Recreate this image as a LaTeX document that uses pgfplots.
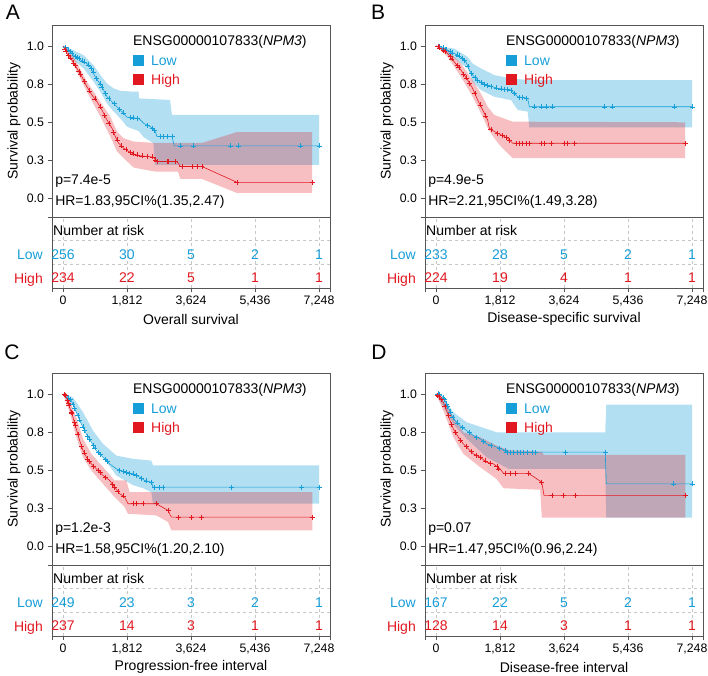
\documentclass[border=0pt]{standalone}
\usepackage{pgfplots}
\pgfplotsset{compat=1.18}
\usepackage{fontspec}
\setmainfont{Liberation Sans}
\definecolor{lowc}{RGB}{22,158,216}
\definecolor{highc}{RGB}{226,24,32}
\definecolor{axc}{RGB}{85,85,85}
\newcommand\fmain{\fontsize{14bp}{16bp}\selectfont}
\newcommand\ftick{\fontsize{12.3bp}{14bp}\selectfont}
\pgfplotsset{
 kmaxis/.style={scale only axis, width=278bp, height=192bp, anchor=south west,
  xmin=-311, xmax=7559, ymin=-0.125, ymax=1.138, xtick=\empty,
  ytick={0,0.25,0.5,0.75,1}, yticklabels={0.0,0.3,0.5,0.8,1.0},
  extra y ticks={-0.125}, extra y tick labels={},
  ytick pos=left, tick align=outside, major tick length=4.5bp,
  axis line style={axc, line width=0.6bp}, every tick/.style={axc, line width=0.6bp},
  tick label style={font=\ftick},
  ylabel={Survival probability},
  ylabel style={font=\fmain, at={(axis description cs:-0.137,0.5)}, anchor=center}},
 riskaxis/.style={scale only axis, width=278bp, height=71bp, anchor=south west,
  xmin=-311, xmax=7559, ymin=0, ymax=3, clip=false,
  xtick={0,1812,3624,5436,7248}, xticklabels={0,{1,812},{3,624},{5,436},{7,248}},
  extra x ticks={-311,7559}, extra x tick labels={}, extra x tick style={grid=none},
  xtick pos=bottom, ytick={1,2}, yticklabels={}, ymajorgrids, xmajorgrids,
  major grid style={dashed, black!22, line width=0.5bp},
  ytick style={draw=none}, tick align=outside, major tick length=4.5bp,
  axis line style={axc, line width=0.6bp}, every tick/.style={axc, line width=0.6bp},
  tick label style={font=\ftick},
  xlabel style={font=\fmain, at={(axis description cs:0.5,-0.437)}, anchor=center}},
 lowline/.style={draw=lowc, line width=0.6bp, mark=none},
 highline/.style={draw=highc, line width=0.6bp, mark=none},
 lowcens/.style={draw=lowc, only marks, mark=+, mark size=2.5bp, mark options={line width=0.5bp}},
 highcens/.style={draw=highc, only marks, mark=+, mark size=2.5bp, mark options={line width=0.5bp}},
 lowband/.style={fill=lowc, fill opacity=0.33, draw=none},
 highband/.style={fill=highc, fill opacity=0.28, draw=none},
}
\newcommand\kmdeco[2]{%
 \node[anchor=west,inner sep=0,font=\fmain] at (axis description cs:0.011,0.185) {#1};
 \node[anchor=west,inner sep=0,font=\fmain] at (axis description cs:0.011,0.080) {#2};
 \node[anchor=west,inner sep=0,font=\fmain] at (axis description cs:0.291,0.911) {ENSG00000107833(\textit{NPM3})};
 \node[fill=lowc,minimum size=11bp,inner sep=0] at (axis description cs:0.311,0.8125) {};
 \node[fill=highc,minimum size=11bp,inner sep=0] at (axis description cs:0.311,0.714) {};
 \node[anchor=west,inner sep=0,font=\fmain,text=lowc] at (axis description cs:0.356,0.8125) {Low};
 \node[anchor=west,inner sep=0,font=\fmain,text=highc,text depth=0bp] at (axis description cs:0.356,0.714) {High};
}
\newcommand\riskrow[7]{%
 \node[text=#1,font=\fmain,inner sep=0] at (axis cs:0,#2) {#3};
 \node[text=#1,font=\fmain,inner sep=0] at (axis cs:1812,#2) {#4};
 \node[text=#1,font=\fmain,inner sep=0] at (axis cs:3624,#2) {#5};
 \node[text=#1,font=\fmain,inner sep=0] at (axis cs:5436,#2) {#6};
 \node[text=#1,font=\fmain,inner sep=0] at (axis cs:7248,#2) {#7};
}
\newcommand\riskcommon{%
 \node[anchor=west,inner sep=0,font=\fmain,xshift=1bp] at (axis cs:-311,2.45) {Number at risk};
 \node[anchor=east,inner sep=0,font=\fmain,text=lowc,xshift=-9bp] at (axis cs:-311,1.4) {Low};
 \node[anchor=east,inner sep=0,font=\fmain,text=highc,xshift=-9bp,text depth=0bp] at (axis cs:-311,0.42) {High};
}
\begin{document}
\begin{tikzpicture}[x=1bp,y=1bp]
\useasboundingbox (0,0) rectangle (708,676);
\node[font=\fontsize{21bp}{24bp}\selectfont] at (13,663.5) {A};
\node[font=\fontsize{21bp}{24bp}\selectfont] at (378,663.5) {B};
\node[font=\fontsize{21bp}{24bp}\selectfont] at (12,323.5) {C};
\node[font=\fontsize{21bp}{24bp}\selectfont] at (379,323.5) {D};

% ---------------- Panel A ----------------
\begin{axis}[kmaxis, at={(52bp,459bp)}]
\addplot[lowband] coordinates {(0,1)(302,0.972)(585,0.939)(868,0.873)(1057,0.808)(1246,0.753)(1434,0.721)(1623,0.705)(2001,0.699)(2142,0.699)(2150,0.655)(3029,0.645)(3086,0.546)(7248,0.546)
 (7248,0.217)(2605,0.217)(2560,0.360)(2284,0.400)(2142,0.440)(1812,0.469)(1623,0.524)(1434,0.568)(1246,0.622)(1057,0.699)(868,0.764)(585,0.852)(302,0.906)(0,1)};
\addplot[highband] coordinates {(0,1)(302,0.928)(680,0.764)(1057,0.633)(1340,0.535)(1529,0.437)(1718,0.393)(2001,0.371)(2614,0.362)(3935,0.362)(4926,0.434)(7050,0.434)
 (7050,0.033)(4926,0.033)(3935,0.125)(3322,0.125)(3250,0.173)(2614,0.173)(2001,0.200)(1718,0.262)(1529,0.306)(1340,0.404)(1057,0.535)(680,0.699)(302,0.873)(0,1)};
\addplot[lowline] coordinates {(0,1.0)(113,0.983)(302,0.939)(491,0.910)(680,0.884)(774,0.862)(915,0.797)(1010,0.764)(1151,0.710)(1246,0.666)(1387,0.633)(1529,0.600)(1718,0.557)(1812,0.531)(2142,0.524)(2284,0.491)(2473,0.469)(2614,0.437)(2661,0.404)(3086,0.404)(3152,0.343)(7248,0.343)};
\addplot[highline] coordinates {(0,1)(113,0.950)(255,0.906)(396,0.852)(538,0.797)(680,0.731)(821,0.677)(963,0.633)(1104,0.579)(1246,0.513)(1387,0.459)(1482,0.404)(1576,0.360)(1718,0.328)(1859,0.306)(2001,0.290)(2189,0.277)(2567,0.269)(2642,0.240)(3228,0.240)(3322,0.207)(3935,0.207)(4926,0.103)(7050,0.103)};
\addplot[lowcens] coordinates {(60,0.99)(150,0.975)(200,0.965)(250,0.950)(350,0.932)(400,0.925)(450,0.917)(550,0.902)(600,0.895)(720,0.875)(800,0.853)(850,0.83)(950,0.786)(1050,0.75)(1100,0.73)(1200,0.688)(1300,0.655)(1450,0.62)(1600,0.585)(1700,0.56)(1900,0.529)(2000,0.527)(2100,0.525)(2380,0.48)(2520,0.458)(2580,0.445)(2750,0.404)(2850,0.404)(2950,0.404)(3086,0.404)(3322,0.343)(3681,0.343)(4738,0.343)(4974,0.343)(6720,0.343)(7248,0.343)};
\addplot[highcens] coordinates {(50,0.98)(80,0.965)(150,0.938)(200,0.922)(300,0.889)(350,0.87)(450,0.831)(500,0.812)(600,0.768)(750,0.704)(900,0.652)(1050,0.6)(1180,0.544)(1300,0.493)(1430,0.434)(1530,0.382)(1650,0.343)(1780,0.318)(1910,0.30)(2001,0.290)(2100,0.283)(2236,0.277)(2378,0.273)(2520,0.27)(2614,0.25)(2661,0.240)(2944,0.240)(2991,0.240)(3180,0.240)(3369,0.207)(3652,0.207)(3794,0.207)(3935,0.207)(4926,0.103)(7050,0.103)};
\kmdeco{p=7.4e-5}{HR=1.83,95CI\%(1.35,2.47)}
\end{axis}
\begin{axis}[riskaxis, at={(52bp,388bp)}, xlabel={Overall survival}]
\riskcommon
\riskrow{lowc}{1.4}{256}{30}{5}{2}{1}
\riskrow{highc}{0.42}{234}{22}{5}{1}{1}
\end{axis}

% ---------------- Panel B ----------------
\begin{axis}[kmaxis, at={(425bp,459bp)}]
\addplot[lowband] coordinates {(0,1)(519,0.983)(897,0.928)(1038,0.884)(1274,0.852)(1652,0.808)(2123,0.786)(2642,0.775)(7248,0.775)
 (7248,0.465)(2642,0.465)(2595,0.568)(2312,0.579)(2123,0.644)(1652,0.666)(1274,0.710)(1038,0.764)(897,0.852)(519,0.917)(0,1)};
\addplot[highband] coordinates {(0,1)(330,0.972)(708,0.884)(1038,0.775)(1321,0.666)(1463,0.600)(1652,0.546)(2171,0.502)(7050,0.498)
 (7050,0.262)(2171,0.262)(1840,0.338)(1652,0.393)(1463,0.459)(1321,0.535)(1038,0.666)(708,0.797)(330,0.928)(0,1)};
\addplot[lowline] coordinates {(0,1)(142,0.993)(330,0.972)(519,0.950)(708,0.928)(849,0.895)(944,0.841)(1038,0.808)(1180,0.775)(1321,0.753)(1463,0.742)(1746,0.721)(2123,0.710)(2312,0.666)(2595,0.655)(2642,0.600)(7248,0.600)};
\addplot[highline] coordinates {(0,1)(142,0.983)(330,0.950)(519,0.895)(708,0.841)(897,0.775)(1038,0.721)(1180,0.644)(1321,0.579)(1463,0.513)(1510,0.459)(1652,0.437)(1840,0.415)(2029,0.393)(2171,0.360)(7050,0.360)};
\addplot[lowcens] coordinates {(50,0.998)(100,0.995)(200,0.987)(250,0.98)(300,0.975)(400,0.962)(450,0.955)(600,0.941)(650,0.935)(750,0.918)(800,0.906)(900,0.866)(1000,0.821)(1100,0.793)(1180,0.775)(1274,0.760)(1368,0.749)(1463,0.742)(1557,0.736)(1699,0.724)(1840,0.718)(1935,0.716)(2029,0.714)(2123,0.710)(2218,0.69)(2359,0.664)(2454,0.66)(2548,0.657)(2784,0.6)(2973,0.6)(3114,0.6)(3303,0.6)(4766,0.6)(5002,0.6)(6748,0.6)(7248,0.6)};
\addplot[highcens] coordinates {(50,0.995)(100,0.988)(200,0.972)(250,0.963)(400,0.931)(450,0.915)(600,0.872)(650,0.858)(780,0.813)(850,0.79)(950,0.755)(1100,0.688)(1250,0.612)(1400,0.54)(1557,0.45)(1746,0.426)(1887,0.41)(1982,0.4)(2076,0.38)(2265,0.36)(2359,0.36)(2454,0.36)(2548,0.36)(2642,0.36)(2973,0.36)(3067,0.36)(3256,0.36)(3633,0.36)(3728,0.36)(3917,0.36)(7050,0.36)};
\kmdeco{p=4.9e-5}{HR=2.21,95CI\%(1.49,3.28)}
\end{axis}
\begin{axis}[riskaxis, at={(425bp,388bp)}, xlabel={Disease-specific survival}]
\riskcommon
\riskrow{lowc}{1.4}{233}{28}{5}{2}{1}
\riskrow{highc}{0.42}{224}{19}{4}{1}{1}
\end{axis}

% ---------------- Panel C ----------------
\begin{axis}[kmaxis, at={(52bp,111bp)}]
\addplot[lowband] coordinates {(0,1)(283,0.978)(566,0.880)(849,0.759)(1132,0.672)(1510,0.595)(1982,0.573)(2501,0.562)(2548,0.530)(7248,0.530)
 (7248,0.278)(2548,0.278)(2501,0.354)(2265,0.380)(1982,0.400)(1510,0.464)(1132,0.584)(849,0.672)(566,0.781)(283,0.923)(0,1)};
\addplot[highband] coordinates {(0,1)(189,0.956)(377,0.847)(566,0.705)(802,0.606)(1132,0.519)(1463,0.431)(1793,0.431)(1887,0.354)(7059,0.354)
 (7059,0.103)(3067,0.103)(2973,0.158)(2642,0.201)(1840,0.212)(1746,0.256)(1463,0.322)(1132,0.409)(802,0.497)(566,0.584)(377,0.716)(189,0.880)(0,1)};
\addplot[lowline] coordinates {(0,1)(94,0.989)(236,0.956)(377,0.880)(519,0.803)(661,0.737)(802,0.683)(944,0.628)(1132,0.584)(1321,0.540)(1510,0.508)(1746,0.486)(1982,0.475)(2171,0.453)(2312,0.431)(2501,0.420)(2548,0.387)(7248,0.387)};
\addplot[highline] coordinates {(0,1)(94,0.978)(189,0.912)(283,0.847)(377,0.770)(472,0.694)(566,0.628)(661,0.584)(802,0.540)(944,0.508)(1132,0.464)(1321,0.431)(1463,0.387)(1604,0.344)(1746,0.322)(1840,0.278)(2642,0.278)(2973,0.234)(3067,0.190)(7059,0.190)};
\addplot[lowcens] coordinates {(40,0.995)(150,0.975)(200,0.965)(280,0.933)(330,0.905)(420,0.857)(470,0.83)(560,0.784)(610,0.76)(700,0.722)(750,0.703)(850,0.664)(900,0.645)(1000,0.615)(1050,0.603)(1200,0.568)(1250,0.556)(1604,0.499)(1699,0.49)(1793,0.484)(1887,0.479)(1982,0.475)(2076,0.464)(2218,0.446)(2359,0.428)(2501,0.420)(2595,0.387)(2737,0.387)(2831,0.387)(4766,0.387)(6748,0.387)(7248,0.387)};
\addplot[highcens] coordinates {(30,0.995)(60,0.99)(120,0.96)(150,0.94)(170,0.925)(230,0.88)(250,0.87)(320,0.815)(350,0.793)(420,0.735)(520,0.655)(600,0.612)(700,0.573)(750,0.556)(870,0.524)(1000,0.495)(1050,0.483)(1200,0.452)(1400,0.407)(1463,0.387)(1557,0.358)(1699,0.329)(1982,0.278)(2076,0.278)(2265,0.278)(2642,0.278)(2973,0.234)(3256,0.190)(3633,0.190)(3917,0.190)(7059,0.190)};
\kmdeco{p=1.2e-3}{HR=1.58,95CI\%(1.20,2.10)}
\end{axis}
\begin{axis}[riskaxis, at={(52bp,40bp)}, xlabel={Progression-free interval}]
\riskcommon
\riskrow{lowc}{1.4}{249}{23}{3}{2}{1}
\riskrow{highc}{0.42}{237}{14}{3}{1}{1}
\end{axis}

% ---------------- Panel D ----------------
\begin{axis}[kmaxis, at={(425bp,111bp)}]
\addplot[lowband] coordinates {(0,1)(302,0.945)(491,0.880)(869,0.814)(1436,0.770)(1720,0.748)(4791,0.748)(4820,0.930)(7248,0.930)
 (7248,0.186)(4820,0.186)(4791,0.508)(2051,0.508)(1436,0.584)(869,0.705)(491,0.803)(302,0.880)(0,1)};
\addplot[highband] coordinates {(0,1)(208,0.956)(491,0.847)(775,0.748)(1247,0.716)(1720,0.660)(2051,0.630)(2996,0.620)(3050,0.600)(7059,0.600)
 (7059,0.186)(2996,0.186)(2948,0.370)(1909,0.380)(1720,0.440)(1247,0.519)(775,0.606)(491,0.716)(208,0.891)(0,1)};
\addplot[lowline] coordinates {(0,1)(161,0.989)(255,0.956)(350,0.912)(444,0.858)(539,0.825)(680,0.792)(869,0.759)(1058,0.726)(1247,0.705)(1436,0.672)(1720,0.650)(1956,0.628)(2051,0.617)(4791,0.617)(4820,0.409)(7248,0.409)};
\addplot[highline] coordinates {(0,1)(113,0.978)(208,0.945)(302,0.891)(397,0.825)(491,0.770)(633,0.716)(775,0.672)(917,0.639)(1058,0.606)(1247,0.584)(1436,0.551)(1625,0.540)(1814,0.508)(1909,0.478)(2618,0.478)(2993,0.420)(3058,0.333)(7059,0.333)};
\addplot[lowcens] coordinates {(50,1)(100,0.995)(200,0.975)(230,0.965)(300,0.935)(330,0.92)(400,0.883)(480,0.845)(600,0.81)(750,0.78)(950,0.745)(1150,0.715)(1350,0.687)(1550,0.663)(1800,0.643)(1956,0.628)(2003,0.617)(2098,0.617)(2192,0.617)(2287,0.617)(2381,0.617)(2476,0.617)(2570,0.617)(2712,0.617)(2807,0.617)(3657,0.617)(4791,0.617)(6728,0.409)(7248,0.409)};
\addplot[highcens] coordinates {(40,0.99)(80,0.985)(150,0.965)(250,0.92)(350,0.86)(440,0.8)(550,0.748)(700,0.695)(850,0.655)(1000,0.62)(1150,0.595)(1247,0.584)(1389,0.56)(1531,0.545)(1720,0.525)(1767,0.508)(1956,0.478)(2098,0.478)(2240,0.478)(2618,0.478)(2993,0.420)(3279,0.333)(3610,0.333)(3941,0.333)(7059,0.333)};
\kmdeco{p=0.07}{HR=1.47,95CI\%(0.96,2.24)}
\end{axis}
\begin{axis}[riskaxis, at={(425bp,40bp)}, xlabel={Disease-free interval}]
\riskcommon
\riskrow{lowc}{1.4}{167}{22}{5}{2}{1}
\riskrow{highc}{0.42}{128}{14}{3}{1}{1}
\end{axis}
\end{tikzpicture}
\end{document}
